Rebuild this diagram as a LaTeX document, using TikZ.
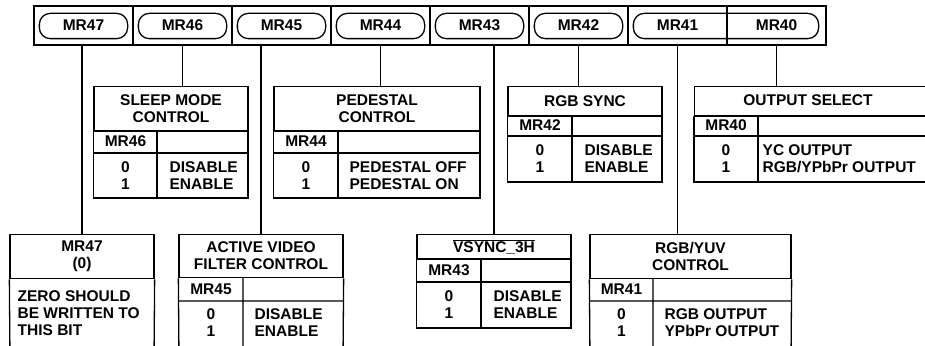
\documentclass[tikz,border=0pt]{standalone}
\usepackage{fontspec}
\setmainfont{Liberation Sans}
\usetikzlibrary{calc}
\tikzset{
  reg/.style={draw, minimum width=99pt, minimum height=39pt, inner sep=0pt},
  pill/.style={rounded corners=11pt},
  head/.style={draw, anchor=north, inner sep=0pt, align=center},
  cell/.style={inner sep=0pt, align=center},
  desc/.style={inner sep=0pt, align=left, anchor=west}
}

\begin{document}
\begin{tikzpicture}[x=1pt, y=-1pt, line width=1.3pt, font=\fontsize{15.5}{17}\selectfont\bfseries]
   \useasboundingbox (0,0) rectangle (925,345);
   \clip (0,0) rectangle (925,345);

   \foreach \r [count=\i from 0] in {47,46,...,40}
      \node[reg] (c\r) at ({83.5+99*\i},25.5) {MR\r};
   \foreach \r in {47,46,...,42}
      \draw[pill] ($(c\r.north west)+(6,8)$) rectangle ($(c\r.south east)+(-6,-7)$);
   \draw[pill] ($(c41.north west)+(6,8)$) rectangle ($(c40.south east)+(-8,-7)$);

   \node[head, minimum width=154pt, minimum height=44pt] (h46) at (171,86) {SLEEP MODE\\CONTROL};
   \draw (h46.south west) rectangle (248,198) (157,130) -- (157,198) (94,153) -- (248,153);
   \node[cell] (k46) at (125.5,141.5) {MR46};
   \node[cell] (b46) at (125.5,175.5) {0\\1};
   \node[desc] (d46) at (169,175.5) {DISABLE\\ENABLE};

   \node[head, minimum width=206pt, minimum height=44pt] (h44) at (377,86) {PEDESTAL\\CONTROL};
   \draw (h44.south west) rectangle (480,198) (338,130) -- (338,198) (274,153) -- (480,153);
   \node[cell] (k44) at (306,141.5) {MR44};
   \node[cell] (b44) at (306,175.5) {0\\1};
   \node[desc] (d44) at (349,175.5) {PEDESTAL OFF\\PEDESTAL ON};

   \node[head, minimum width=154pt, minimum height=29pt] (h42) at (585,86) {RGB SYNC};
   \draw (h42.south west) rectangle (662,182) (572,115) -- (572,182) (508,136) -- (662,136);
   \node[cell] (k42) at (540,125.5) {MR42};
   \node[cell] (b42) at (540,159) {0\\1};
   \node[desc] (d42) at (584,159) {DISABLE\\ENABLE};

   \node[head, minimum width=266pt, minimum height=29pt, anchor=north west] (h40) at (694,86) {};
   \node[cell] (n40) at (808,100.5) {OUTPUT SELECT};
   \draw (h40.south west) rectangle (960,182) (758,115) -- (758,182) (694,136) -- (960,136);
   \node[cell] (k40) at (726,125.5) {MR40};
   \node[cell] (b40) at (726,159) {0\\1};
   \node[desc] (d40) at (762,159) {YC OUTPUT\\RGB/YPbPr OUTPUT};

   \node[head, minimum width=144pt, minimum height=44pt] (h47) at (82,234) {MR47\\(0)};
   \draw (h47.south west) -- (10,360) (h47.south east) -- (154,360);
   \node[desc] (d47) at (17,313.5) {ZERO SHOULD\\BE WRITTEN TO\\THIS BIT};

   \node[head, minimum width=164pt, minimum height=43pt] (h45) at (261,234) {ACTIVE VIDEO\\FILTER CONTROL};
   \draw (h45.south west) -- (179,360) (h45.south east) -- (343,360) (243,277) -- (243,360) (179,301) -- (343,301);
   \node[cell] (k45) at (211,289) {MR45};
   \node[cell] (b45) at (211,322.5) {0\\1};
   \node[desc] (d45) at (254,322.5) {DISABLE\\ENABLE};

   \node[head, minimum width=154pt, minimum height=24pt] (h43) at (494,234) {$\overline{\mbox{VSYNC\_3H}}$};
   \draw (h43.south west) rectangle (571,328) (481,258) -- (481,328) (417,282) -- (571,282);
   \node[cell] (k43) at (449,270) {MR43};
   \node[cell] (b43) at (449,305) {0\\1};
   \node[desc] (d43) at (493,305) {DISABLE\\ENABLE};

   \node[head, minimum width=201pt, minimum height=44pt] (h41) at (690.5,234) {RGB/YUV\\CONTROL};
   \draw (h41.south west) -- (590,360) (h41.south east) -- (791,360) (653,278) -- (653,360) (590,301) -- (791,301);
   \node[cell] (k41) at (621.5,289.5) {MR41};
   \node[cell] (b41) at (621.5,322.5) {0\\1};
   \node[desc] (d41) at (664,322.5) {RGB OUTPUT\\YPbPr OUTPUT};

   \draw (h47.north) -- (h47.north |- c47.south);
   \draw (c46.south) -- (c46.south |- h46.north);
   \draw (h45.north) -- (h45.north |- c45.south);
   \draw (c44.south) -- (c44.south |- h44.north);
   \draw (h43.north) -- (h43.north |- c43.south);
   \draw (c42.south) -- (c42.south |- h42.north);
   \draw (c41.south) -- (c41.south |- h41.north);
   \draw (c40.south) -- (c40.south |- h40.north);
\end{tikzpicture}
\end{document}
